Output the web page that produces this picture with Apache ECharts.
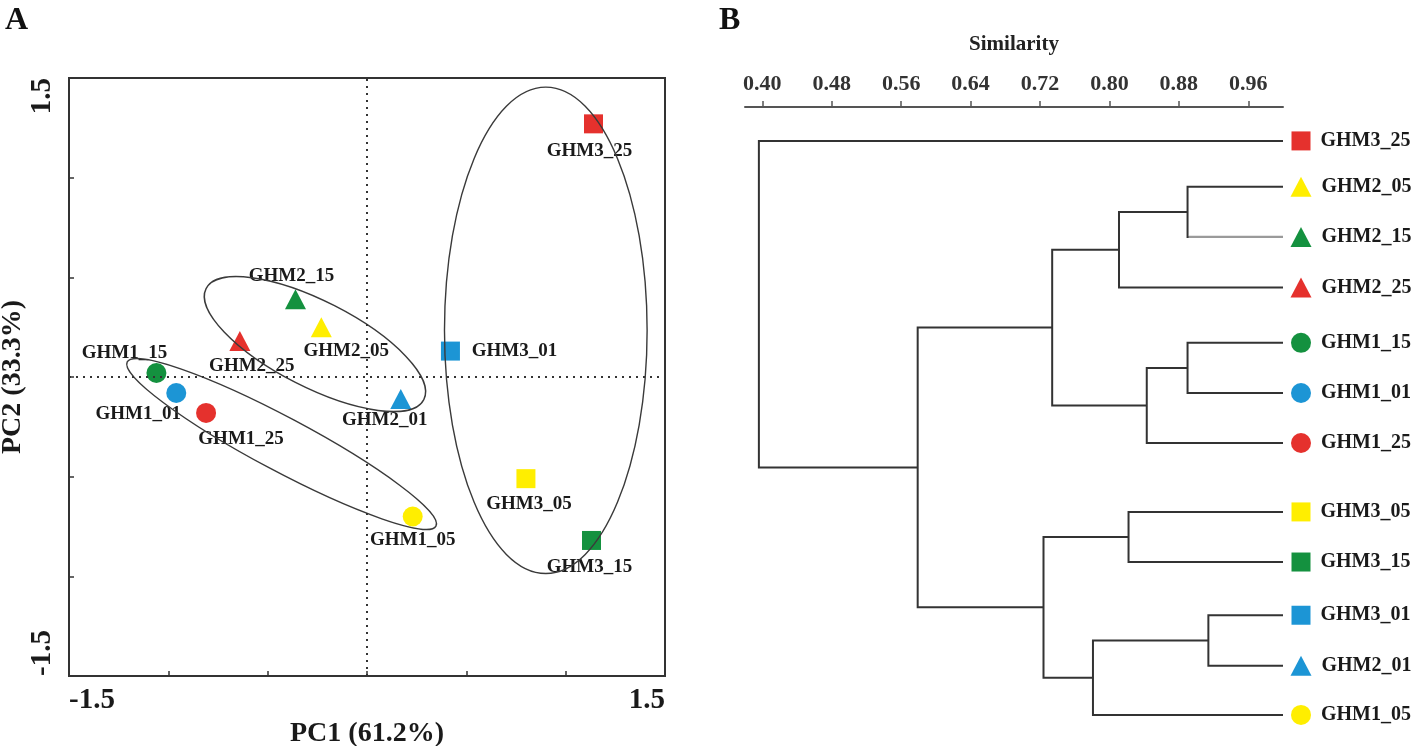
<!DOCTYPE html>
<html><head><meta charset="utf-8">
<script src="https://cdn.jsdelivr.net/npm/echarts@6/dist/echarts.min.js"></script>
<style>html,body{margin:0;padding:0;background:#fff}#c{width:1418px;height:746px}</style>
</head><body><div id="c"></div>
<script>
// ---------- Panel A : PCA ----------
const pcaNames = ['GHM3_25','GHM2_15','GHM2_05','GHM2_25','GHM3_01','GHM1_15','GHM1_01','GHM1_25','GHM2_01','GHM3_05','GHM1_05','GHM3_15'];
const pc1 = [1.14, -0.36, -0.23, -0.64, 0.42, -1.06, -0.96, -0.81, 0.17, 0.80, 0.23, 1.13];
const pc2 = [1.27, 0.39, 0.25, 0.18, 0.13, 0.02, -0.08, -0.18, -0.11, -0.51, -0.70, -0.82];
const pcaTickLabels = [-1.5, 1.5];
// group ellipses (data units)
const ellipseGroups = ['GHM1','GHM2','GHM3'];
const ellipseCX = [-0.43, -0.262, 0.90];
const ellipseCY = [-0.336, 0.165, 0.234];
const ellipseRA = [0.88, 0.615, 0.51];
const ellipseRB = [0.135, 0.216, 1.22];
const ellipseAngle = [-28, -27, 0];

// ---------- Panel B : dendrogram ----------
const leafNames = ['GHM3_25','GHM2_05','GHM2_15','GHM2_25','GHM1_15','GHM1_01','GHM1_25','GHM3_05','GHM3_15','GHM3_01','GHM2_01','GHM1_05'];
const leafRows = [0, 0.88, 1.84, 2.81, 3.87, 4.83, 5.79, 7.11, 8.07, 9.09, 10.06, 11.0];
const mergeLeft = [1, 12, 4, 14, 13, 7, 9, 18, 17, 16, 0];
const mergeRight = [2, 3, 5, 6, 15, 8, 10, 11, 19, 20, 21];
const mergeSimilarity = [0.890, 0.811, 0.890, 0.843, 0.734, 0.822, 0.914, 0.781, 0.724, 0.579, 0.396];
const similarityTicks = [0.40, 0.48, 0.56, 0.64, 0.72, 0.80, 0.88, 0.96];
const leafSimilarity = 1.0;

// ---------- styles ----------
const FONT = "'Liberation Serif','Times New Roman',serif";
const siteShape = {GHM1: 'circle', GHM2: 'triangle', GHM3: 'rect'};
const siteSize = {GHM1: 20, GHM2: [21, 20], GHM3: 19};
const depthColor = {'01': '#1C95D5', '05': '#FFEE00', '15': '#14913F', '25': '#E5312D'};
const labelOffsetA = {
  GHM3_25: [-4, 27], GHM2_15: [-4, -23], GHM2_05: [25, 24], GHM2_25: [12, 25],
  GHM3_01: [64, 0], GHM1_15: [-32, -20], GHM1_01: [-38, 21], GHM1_25: [35, 26],
  GHM2_01: [-16, 21], GHM3_05: [3, 25], GHM1_05: [0, 24], GHM3_15: [-2, 27]
};
const lightLeaves = ['GHM2_15'];

function markerFor(name) {
  const [site, depth] = name.split('_');
  return {symbol: siteShape[site], symbolSize: siteSize[site], color: depthColor[depth]};
}

// ---------- build dendrogram nodes ----------
const nodeX = leafNames.map(() => leafSimilarity);
const nodeY = leafRows.slice();
const linkData = [];
mergeLeft.forEach((l, k) => {
  const r = mergeRight[k];
  const s = mergeSimilarity[k];
  linkData.push([nodeX[l], nodeY[l], nodeX[r], nodeY[r], s, l, r]);
  nodeX.push(s);
  nodeY.push((nodeY[l] + nodeY[r]) / 2);
});

const pcaData = pcaNames.map((n, i) => {
  const m = markerFor(n);
  return {
    name: n, value: [pc1[i], pc2[i]], symbol: m.symbol, symbolSize: m.symbolSize,
    itemStyle: {color: m.color, opacity: 1},
    label: {offset: labelOffsetA[n]}
  };
});
const leafData = leafNames.map((n, i) => {
  const m = markerFor(n);
  return {name: n, value: [leafSimilarity, leafRows[i]], symbol: m.symbol, symbolSize: m.symbolSize,
    itemStyle: {color: m.color, opacity: 1}};
});
const ellipseData = ellipseGroups.map((g, i) => ({name: g, value: [ellipseCX[i], ellipseCY[i], ellipseRA[i], ellipseRB[i], ellipseAngle[i]]}));

const chart = echarts.init(document.getElementById('c'), null, {renderer: 'canvas'});
const axisNum = {fontFamily: FONT, fontWeight: 'bold', fontSize: 29, color: '#1a1a1a'};

chart.setOption({
  animation: false,
  backgroundColor: '#fff',
  title: [
    {text: 'A', left: 5, top: 5, padding: 0, textStyle: {fontFamily: FONT, fontWeight: 'bold', fontSize: 32, color: '#111'}},
    {text: 'B', left: 719, top: 5, padding: 0, textStyle: {fontFamily: FONT, fontWeight: 'bold', fontSize: 32, color: '#111'}}
  ],
  grid: [
    {left: 69, top: 78, width: 596, height: 598, show: true, borderColor: '#333', borderWidth: 2, backgroundColor: 'transparent', outerBoundsMode: 'none'},
    {left: 745, top: 107, width: 538, height: 634, outerBoundsMode: 'none'}
  ],
  xAxis: [
    {
      gridIndex: 0, type: 'value', min: -1.5, max: 1.5, interval: 0.5,
      axisLine: {show: false, onZero: false}, splitLine: {show: false},
      axisTick: {show: true, inside: true, length: 5, lineStyle: {color: '#333', width: 1.5}},
      axisLabel: Object.assign({customValues: pcaTickLabels, margin: 10, alignMinLabel: 'left', alignMaxLabel: 'right',
        formatter: v => String(v)}, axisNum),
      name: 'PC1 (61.2%)', nameLocation: 'middle', nameGap: 32,
      nameTextStyle: {fontFamily: FONT, fontWeight: 'bold', fontSize: 28, color: '#1a1a1a'}
    },
    {
      gridIndex: 1, type: 'value', position: 'top', min: 0.38, max: 1.0,
      axisLine: {show: true, onZero: false, lineStyle: {color: '#555', width: 2}},
      axisTick: {show: true, length: 6, customValues: similarityTicks, lineStyle: {color: '#555', width: 1.5}},
      splitLine: {show: false},
      axisLabel: {customValues: similarityTicks, formatter: v => v.toFixed(2), margin: 12,
        fontFamily: FONT, fontWeight: 'bold', fontSize: 22, color: '#333'},
      name: 'Similarity', nameLocation: 'middle', nameGap: 52,
      nameTextStyle: {fontFamily: FONT, fontWeight: 'bold', fontSize: 21, color: '#222'}
    }
  ],
  yAxis: [
    {
      gridIndex: 0, type: 'value', min: -1.5, max: 1.5, interval: 0.5,
      axisLine: {show: false, onZero: false}, splitLine: {show: false},
      axisTick: {show: true, inside: true, length: 5, lineStyle: {color: '#333', width: 1.5}},
      axisLabel: Object.assign({customValues: pcaTickLabels, rotate: 90, margin: 12, alignMinLabel: 'left', alignMaxLabel: 'right',
        formatter: v => String(v)}, axisNum),
      name: 'PC2 (33.3%)', nameLocation: 'middle', nameGap: 28,
      nameTextStyle: {fontFamily: FONT, fontWeight: 'bold', fontSize: 28, color: '#1a1a1a'}
    },
    {gridIndex: 1, type: 'value', min: -0.65, max: 11.5, inverse: true, show: false}
  ],
  series: [
    {
      type: 'scatter', xAxisIndex: 0, yAxisIndex: 0, z: 2, data: pcaData,
      itemStyle: {opacity: 1},
      label: {show: true, position: 'inside', formatter: '{b}', fontFamily: FONT, fontWeight: 'bold',
        fontSize: 19, color: '#1a1a1a', textBorderWidth: 0},
      emphasis: {disabled: true},
      markLine: {
        silent: true, symbol: 'none', label: {show: false}, animation: false,
        lineStyle: {color: '#333', type: [2, 5], width: 2, opacity: 1},
        data: [{xAxis: 0}, {yAxis: 0}]
      }
    },
    {
      type: 'custom', xAxisIndex: 0, yAxisIndex: 0, z: 3, data: ellipseData,
      encode: {x: 0, y: 1}, silent: true,
      renderItem: (params, api) => {
        const c = api.coord([api.value(0), api.value(1)]);
        const s = api.size([api.value(2), api.value(3)]);
        return {
          type: 'ellipse', x: c[0], y: c[1], rotation: api.value(4) * Math.PI / 180,
          shape: {cx: 0, cy: 0, rx: s[0], ry: s[1]},
          style: {fill: 'none', stroke: '#3a3a3a', lineWidth: 1.4}
        };
      }
    },
    {
      type: 'custom', xAxisIndex: 1, yAxisIndex: 1, data: linkData, silent: true,
      encode: {x: [0, 2, 4], y: [1, 3]},
      renderItem: (params, api) => {
        const pA = api.coord([api.value(0), api.value(1)]);
        const pB = api.coord([api.value(2), api.value(3)]);
        const nA = api.coord([api.value(4), api.value(1)]);
        const nB = api.coord([api.value(4), api.value(3)]);
        const l = api.value(5), r = api.value(6);
        const children = [{
          type: 'polyline', shape: {points: [pA, nA, nB, pB]},
          style: {fill: 'none', stroke: '#333', lineWidth: 2}
        }];
        [[l, pA, nA], [r, pB, nB]].forEach(([idx, p, n]) => {
          if (idx < leafNames.length && lightLeaves.includes(leafNames[idx])) {
            children.push({type: 'line', shape: {x1: p[0], y1: p[1], x2: n[0] + 1, y2: n[1]},
              style: {stroke: '#9a9a9a', lineWidth: 2.2}});
          }
        });
        return {type: 'group', children};
      }
    },
    {
      type: 'scatter', xAxisIndex: 1, yAxisIndex: 1, data: leafData, clip: false,
      symbolOffset: [18, 0], itemStyle: {opacity: 1},
      label: {show: true, position: 'right', distance: 10, formatter: '{b}', fontFamily: FONT,
        fontWeight: 'bold', fontSize: 20, color: '#1a1a1a'},
      emphasis: {disabled: true}
    }
  ]
});
</script>
</body></html>
